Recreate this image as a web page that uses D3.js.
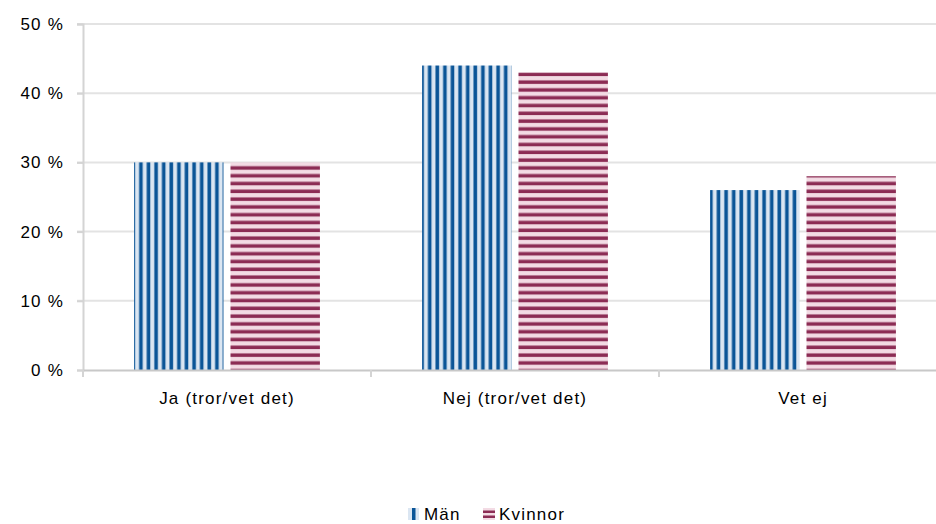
<!DOCTYPE html>
<html><head><meta charset="utf-8">
<script src="https://cdn.jsdelivr.net/npm/d3@7"></script>
<style>body{margin:0;background:#fff}svg{display:block;font-family:"Liberation Sans",Arial,sans-serif}</style>
</head><body><svg id="c" width="936" height="524"></svg>
<script>
const categories = ["Ja (tror/vet det)", "Nej (tror/vet det)", "Vet ej"];
const seriesNames = ["Män", "Kvinnor"];
const manValues = [30, 44, 26];
const kvinnorValues = [30, 43, 28];
const yTicks = [0, 10, 20, 30, 40, 50];

(function(){
const svg = d3.select("#c");
const mLeft = 83, mTop = 24, mBottom = 370, mRight = 947;
const FS = 17, LS = 1.2;
const x = d3.scaleBand().domain(categories).range([mLeft, mRight]);
const y = d3.scaleLinear().domain([0, 50]).range([mBottom, mTop]);
const sub = d3.scaleBand().domain(seriesNames).range([0, x.bandwidth()]).paddingOuter(0.53).paddingInner(0.0725);

const defs = svg.append("defs");
const pm = defs.append("pattern").attr("id","pm").attr("patternUnits","userSpaceOnUse").attr("width",7.6).attr("height",10);
pm.append("rect").attr("width",7.6).attr("height",10).attr("fill","#dbe6f2");
pm.append("rect").attr("x",2.3).attr("width",3.6).attr("height",10).attr("fill","#0b5597");
const pk = defs.append("pattern").attr("id","pk").attr("patternUnits","userSpaceOnUse").attr("width",10).attr("height",7.8);
pk.append("rect").attr("width",10).attr("height",7.8).attr("fill","#f3dbe4");
pk.append("rect").attr("y",2.4).attr("width",10).attr("height",3.5).attr("fill","#8c2c54");

// gridlines
svg.append("g").selectAll("line").data(yTicks.filter(d=>d>0)).join("line")
  .attr("x1", mLeft-6).attr("x2", 936).attr("y1", d=>y(d)).attr("y2", d=>y(d))
  .attr("stroke","#e3e3e3").attr("stroke-width",2);

// y axis
const ya = svg.append("g").attr("transform",`translate(${mLeft},0)`)
  .call(d3.axisLeft(y).tickValues(yTicks).tickFormat(d=>d+" %").tickSize(6).tickPadding(13));
ya.select(".domain").attr("stroke","#d4d4d4").attr("stroke-width",2);
ya.selectAll(".tick line").attr("stroke","#d4d4d4").attr("stroke-width",2);
ya.selectAll("text").attr("font-size",FS).attr("letter-spacing",LS).attr("fill","#000").attr("font-family","Liberation Sans, Arial, sans-serif");

// bars
const data = categories.map((c,i)=>({c, v:[manValues[i], kvinnorValues[i]]}));
const g = svg.append("g");
data.forEach(d=>{
  seriesNames.forEach((s,j)=>{
    g.append("rect").attr("x", x(d.c)+sub(s)).attr("width", sub.bandwidth())
      .attr("y", y(d.v[j])).attr("height", mBottom - y(d.v[j]))
      .attr("fill", j===0 ? "url(#pm)" : "url(#pk)");
  });
});

// x axis
const xa = svg.append("g").attr("transform",`translate(0,${mBottom})`)
  .call(d3.axisBottom(x).tickSize(0).tickPadding(22));
xa.select(".domain").attr("stroke","#c8c8c8").attr("stroke-width",2);
xa.selectAll("text").attr("font-size",FS).attr("letter-spacing",LS).attr("fill","#000").attr("font-family","Liberation Sans, Arial, sans-serif");
svg.append("g").selectAll("line").data(categories).join("line")
  .attr("x1", d=>x(d)).attr("x2", d=>x(d)).attr("y1", mBottom).attr("y2", mBottom+7)
  .attr("stroke","#d4d4d4").attr("stroke-width",2);

// legend
const leg = svg.append("g").attr("transform","translate(408,520)");
const items = [{n:"Män", x:0},{n:"Kvinnor", x:75}];
items.forEach(it=>{
  const gi = leg.append("g").attr("transform",`translate(${it.x},0)`);
  if (it.n==="Män") {
    gi.append("rect").attr("x",0).attr("y",-12).attr("width",11).attr("height",12).attr("fill","#dbe6f2");
    gi.append("rect").attr("x",4).attr("y",-12).attr("width",3.5).attr("height",12).attr("fill","#0b5597");
  } else {
    gi.append("rect").attr("x",0).attr("y",-12).attr("width",12).attr("height",12).attr("fill","#f3dbe4");
    gi.append("rect").attr("x",0).attr("y",-9.5).attr("width",12).attr("height",2.5).attr("fill","#8c2c54");
    gi.append("rect").attr("x",0).attr("y",-4.5).attr("width",12).attr("height",2.5).attr("fill","#8c2c54");
  }
  gi.append("text").attr("x",16).attr("y",0).attr("font-size",FS).attr("letter-spacing",LS).attr("fill","#000").text(it.n);
});
})();
</script></body></html>
